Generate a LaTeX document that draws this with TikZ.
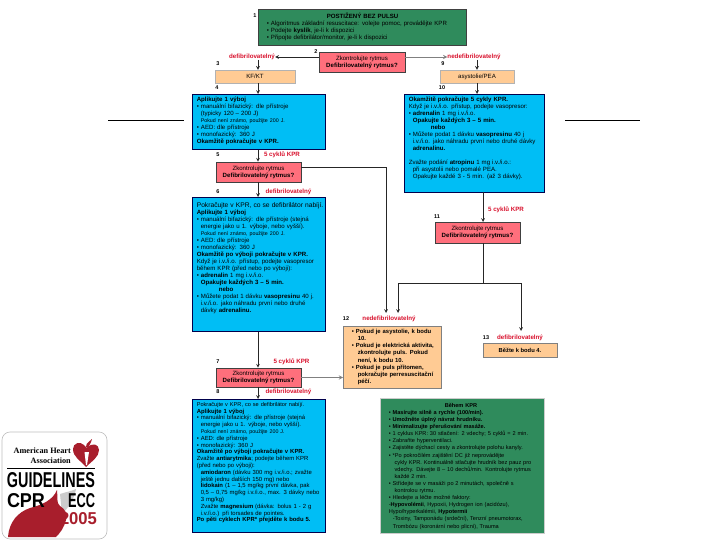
\documentclass[tikz,border=0pt]{standalone}
\usepackage{fontspec}
\setmainfont{Liberation Sans}
\newfontfamily\logoserif{Liberation Serif}
\newcommand{\bl}{\textbullet\ }
\newcommand{\ind}{\hspace*{4pt}}
\newcommand{\smalltxt}{\fontsize{5.3}{7}\selectfont}
\newcommand{\bigtxt}{\fontsize{6.7}{7}\selectfont}
\definecolor{algblue}{HTML}{00BEF5}
\definecolor{alggreen}{HTML}{2F8B5C}
\definecolor{algred}{HTML}{FF6F7C}
\definecolor{algpeach}{HTML}{FFCB94}
\definecolor{labred}{HTML}{D8102C}
\definecolor{logored}{HTML}{A81E2C}
\tikzset{
  txt/.style={font=\fontsize{6.1}{7}\selectfont},
  box/.style={draw=black!75,line width=0.6pt,anchor=north west,align=left,inner sep=0pt,txt},
  bluebox/.style={box,fill=algblue,draw=blue!30!black},
  greenbox/.style={box,fill=alggreen},
  redbox/.style={draw=black!75,line width=0.6pt,fill=algred,align=center,inner sep=0pt,txt},
  peachbox/.style={draw=black!30,line width=0.4pt,fill=algpeach,align=center,inner sep=0pt,txt},
  numlab/.style={font=\fontsize{5.5}{6}\bfseries\selectfont,inner sep=0pt},
  redlab/.style={font=\fontsize{6.2}{6}\bfseries\selectfont,text=labred,inner sep=0pt},
  conn/.style={->,line width=0.7pt,black!85},
  conngray/.style={->,line width=0.9pt,black!50}
}
\begin{document}
\begin{tikzpicture}[>=stealth, x=1pt, y=-1pt]
  \useasboundingbox (0,0) rectangle (720,540);
  % side rules
  \coordinate (ruleLa) at (108,120);
  \coordinate (ruleLb) at (184,120);
  \coordinate (ruleRa) at (565,120);
  \coordinate (ruleRb) at (640,120);
  \draw[black,line width=0.7pt] (ruleLa) -- (ruleLb);
  \draw[black,line width=0.7pt] (ruleRa) -- (ruleRb);
  % boxes
  \node[greenbox,minimum width=208pt,minimum height=36pt,text width=207pt] (b1) at (258,9) {\hspace*{68pt}\textbf{POSTIŽENÝ BEZ PULSU}\\
    \ind\ind\bl Algoritmus základní resuscitace: volejte pomoc, provádějte KPR\\
    \ind\ind\bl Podejte \textbf{kyslík}, je-li k dispozici\\
    \ind\ind\bl Připojte defibrilátor/monitor, je-li k dispozici};
  \node[redbox,minimum width=86pt,minimum height=20pt] (b2) at (362,62) {Zkontrolujte rytmus\\\textbf{Defibrilovatelný rytmus?}};
  \node[peachbox,minimum width=80pt,minimum height=13pt] (b3) at (255,76.5) {KF/KT};
  \node[peachbox,minimum width=74pt,minimum height=13pt] (b9) at (477,76.5) {asystolie/PEA};
  \node[bluebox,minimum width=133pt,minimum height=55pt,text width=132pt,text height=5pt,text depth=46pt] (b4) at (192,94) {\ind\textbf{Aplikujte 1 výboj}\\
    \ind\bl manuální bifazický: dle přístroje\\
    \ind\ind(typicky 120 -- 200 J)\\
    \ind\ind{\smalltxt Pokud není známo, použijte 200 J.}\\
    \ind\bl AED: dle přístroje\\
    \ind\bl monofazický: 360 J\\
    \ind\textbf{Okamžitě pokračujte v KPR.}};
  \node[bluebox,minimum width=140pt,minimum height=98pt,text width=139pt,text height=5pt,text depth=89pt] (b10) at (404,94) {\ind\textbf{Okamžitě pokračujte 5 cykly KPR.}\\
    \ind Když je i.v./i.o. přístup, podejte vasopresor:\\
    \ind\bl\textbf{adrenalin} 1 mg i.v./i.o.\\
    \ind\ind\textbf{Opakujte každých 3 -- 5 min.}\\
    \ind\ind\hspace*{18pt}\textbf{nebo}\\
    \ind\bl Můžete podat 1 dávku \textbf{vasopresinu} 40 j\\
    \ind\ind i.v./i.o. jako náhradu první nebo druhé dávky\\
    \ind\ind\textbf{adrenalinu.}\\[7pt]
    \ind Zvažte podání \textbf{atropinu} 1 mg i.v./i.o.:\\
    \ind\ind při asystolii nebo pomalé PEA.\\
    \ind\ind Opakujte každé 3 - 5 min. (až 3 dávky).};
  \node[redbox,minimum width=85pt,minimum height=20pt] (b5) at (258.5,172) {Zkontrolujte rytmus\\\textbf{Defibrilovatelný rytmus?}};
  \node[bluebox,minimum width=133pt,minimum height=134pt,text width=132pt,text height=8pt,text depth=122pt] (b6) at (192,197) {\ind{\bigtxt Pokračujte v KPR, co se defibrilátor nabíjí.}\\
    \ind\textbf{Aplikujte 1 výboj}\\
    \ind\bl manuální bifazický: dle přístroje (stejná\\
    \ind\ind energie jako u 1. výboje, nebo vyšší).\\
    \ind\ind{\smalltxt Pokud není známo, použijte 200 J.}\\
    \ind\bl AED: dle přístroje\\
    \ind\bl monofazický: 360 J\\
    \ind\textbf{Okamžitě po výboji pokračujte v KPR.}\\
    \ind Když je i.v./i.o. přístup, podejte vasopresor\\
    \ind během KPR (před nebo po výboji):\\
    \ind\bl\textbf{adrenalin} 1 mg i.v./i.o.\\
    \ind\ind\textbf{Opakujte každých 3 -- 5 min.}\\
    \ind\ind\hspace*{18pt}\textbf{nebo}\\
    \ind\bl Můžete podat 1 dávku \textbf{vasopresinu} 40 j.\\
    \ind\ind i.v./i.o. jako náhradu první nebo druhé\\
    \ind\ind dávky \textbf{adrenalinu.}};
  \node[redbox,minimum width=85pt,minimum height=21pt] (b11) at (477.5,232.5) {Zkontrolujte rytmus\\\textbf{Defibrilovatelný rytmus?}};
  \node[box,fill=algpeach,draw=black!50,minimum width=98pt,minimum height=62pt,text width=97pt,text height=6pt,text depth=54pt,font=\fontsize{5.9}{7.2}\bfseries\selectfont] (b12) at (343,326) {\ind\ind\bl Pokud je asystolie, k bodu\\
    \ind\ind\ind\ 10.\\
    \ind\ind\bl Pokud je elektrická aktivita,\\
    \ind\ind\ind\ zkontrolujte puls. Pokud\\
    \ind\ind\ind\ není, k bodu 10.\\
    \ind\ind\bl Pokud je puls přítomen,\\
    \ind\ind\ind\ pokračujte perresuscitační\\
    \ind\ind\ind\ péčí.};
  \node[peachbox,draw=black!50,minimum width=74pt,minimum height=14pt,font=\fontsize{5.8}{7}\bfseries\selectfont] (b13) at (520,350) {Běžte k bodu 4.};
  \node[redbox,minimum width=85pt,minimum height=19pt] (b7) at (258.5,377.5) {Zkontrolujte rytmus\\\textbf{Defibrilovatelný rytmus?}};
  \node[bluebox,minimum width=133pt,minimum height=133pt,text width=132pt,text height=6pt,text depth=125pt,font=\fontsize{5.9}{6.8}\selectfont] (b8) at (192,399) {\ind{\fontsize{5.6}{6.8}\selectfont Pokračujte v KPR, co se defibrilátor nabíjí.}\\
    \ind\textbf{Aplikujte 1 výboj}\\
    \ind\bl manuální bifazický: dle přístroje (stejná\\
    \ind\ind energie jako u 1. výboje, nebo vyšší).\\
    \ind\ind{\smalltxt Pokud není známo, použijte 200 J.}\\
    \ind\bl AED: dle přístroje\\
    \ind\bl monofazický: 360 J\\
    \ind\textbf{Okamžitě po výboji pokračujte v KPR.}\\
    \ind Zvažte \textbf{antiarytmika}; podejte během KPR\\
    \ind (před nebo po výboji):\\
    \ind\ind\textbf{amiodaron} (dávku 300 mg i.v./i.o.; zvažte\\
    \ind\ind ještě jednu dalších 150 mg) nebo\\
    \ind\ind\textbf{lidokain} (1 -- 1,5 mg/kg první dávka, pak\\
    \ind\ind 0,5 -- 0,75 mg/kg i.v./i.o., max. 3 dávky nebo\\
    \ind\ind 3 mg/kg)\\
    \ind\ind Zvažte \textbf{magnesium} (dávka: bolus 1 - 2 g\\
    \ind\ind i.v./i.o.) při torsades de pointes.\\
    \ind\textbf{Po pěti cyklech KPR* přejděte k bodu 5.}};
  \node[greenbox,draw=black!20,minimum width=164pt,minimum height=135pt,text width=163pt,text height=8pt,text depth=125pt,font=\fontsize{5.6}{7.1}\selectfont] (b14) at (380,398) {\hspace*{64pt}\textbf{Během KPR}\\
    \ind\ind\bl\textbf{Masírujte silně a rychle (100/min).}\\
    \ind\ind\bl\textbf{Umožněte úplný návrat hrudníku.}\\
    \ind\ind\bl\textbf{Minimalizujte přerušování masáže.}\\
    \ind\ind\bl 1 cyklus KPR: 30 stlačení: 2 vdechy; 5 cyklů = 2 min.\\
    \ind\ind\bl Zabraňte hyperventilaci.\\
    \ind\ind\bl Zajistěte dýchací cesty a zkontrolujte polohu kanyly.\\
    \ind\ind\bl *Po pokročilém zajištění DC již neprovádějte\\
    \ind\ind\ind\ cykly KPR. Kontinuálně stlačujte hrudník bez pauz pro\\
    \ind\ind\ind\ vdechy. Dávejte 8 -- 10 dechů/min. Kontrolujte rytmus\\
    \ind\ind\ind\ každé 2 min.\\
    \ind\ind\bl Střídejte se v masáži po 2 minutách, společně s\\
    \ind\ind\ind\ kontrolou rytmu.\\
    \ind\ind\bl Hledejte a léčte možné faktory:\\
    \ind\ind -\textbf{Hypovolémii}, Hypoxii, Hydrogen ion (acidózu),\\
    \ind\ind Hypo/hyperkalémii, \textbf{Hypotermii}\\
    \ind\ind\ind -Toxiny, Tamponádu (srdeční), Tenzní pneumotorax,\\
    \ind\ind\ind Trombózu (koronární nebo plicní), Trauma};
  % step numbers
  \node[numlab] (n1) at (255,16) {1};
  \node[numlab] (n2) at (316,52) {2};
  \node[numlab] (n3) at (218,64) {3};
  \node[numlab] (n9) at (443,64) {9};
  \node[numlab] (n4) at (217,88) {4};
  \node[numlab] (n10) at (442,88) {10};
  \node[numlab] (n5) at (218,155) {5};
  \node[numlab] (n6) at (218,192) {6};
  \node[numlab] (n11) at (437,217) {11};
  \node[numlab] (n12) at (346,319) {12};
  \node[numlab] (n13) at (486,338) {13};
  \node[numlab] (n7) at (218,362) {7};
  \node[numlab] (n8) at (218,392) {8};
  % red labels
  \node[redlab] (defA) at (252,57) {defibrilovatelný};
  \node[redlab] (nedefA) at (474,57) {nedefibrilovatelný};
  \node[redlab] (cyk5) at (282,155) {5 cyklů KPR};
  \node[redlab] (def6) at (288.5,192) {defibrilovatelný};
  \node[redlab] (cyk11) at (506,210) {5 cyklů KPR};
  \node[redlab] (cyk7) at (291.5,362) {5 cyklů KPR};
  \node[redlab] (def8) at (288.5,392) {defibrilovatelný};
  \node[redlab] (nedef12) at (389,319) {nedefibrilovatelný};
  \node[redlab] (def13) at (520,338) {defibrilovatelný};
  % connector corners
  \coordinate (c3) at (258,60);
  \coordinate (c9) at (477,60);
  \coordinate (c5) at (386,167);
  \coordinate (c12a) at (386,313);
  \coordinate (c12b) at (398,313);
  \coordinate (c13) at (521,331);
  \coordinate (c11a) at (483,192);
  \coordinate (c11b) at (483,222);
  \coordinate (c11c) at (483,243);
  \coordinate (c11d) at (483,283);
  % connectors
  \draw[conn] (b2.west |- defA) -- (defA.east);
  \draw[conngray] (b2.east |- nedefA) -- (nedefA.west);
  \draw[conn] (c3) -- (c3 |- b3.north);
  \draw[conn] (c9) -- (c9 |- b9.north);
  \draw[conn] (c3 |- b3.south) -- (c3 |- b4.north);
  \draw[conn] (c9 |- b9.south) -- (c9 |- b10.north);
  \draw[conn] (c3 |- b4.south) -- (c3 |- b5.north);
  \draw[conn] (c3 |- b5.south) -- (c3 |- b6.north);
  \draw[conn] (c3 |- b6.south) -- (c3 |- b7.north);
  \draw[conn] (c3 |- b7.south) -- (c3 |- b8.north);
  \draw[conn] (b5.east |- c5) -- (c5) -- (c12a);
  \draw[conn] (c11a) -- (c11b);
  \draw[conn] (c11c) -- (c11d) -| (c13);
  \draw[conn] (c11d) -| (c12b);
  \draw[conngray] (b7.east) -- (b7.east -| b12.west);
  % logo
  \draw[black!25,fill=white,line width=0.6pt,rounded corners=8pt] (2,432) rectangle (107,539);
  \fill[black!20] (60,494) .. controls (66,492) and (72,491) .. (76,489) .. controls (74,500) and (68,508) .. (62,514) -- cycle;
  \fill[logored] (8,537) .. controls (9,522) and (18,512) .. (30,508) .. controls (42,505) and (53,500) .. (57,490) .. controls (58,497) and (56,503) .. (60,506) .. controls (65,509) and (68,514) .. (66,520) .. controls (64,528) and (60,533) .. (56,537) -- cycle;
  \node[inner sep=0pt,font=\logoserif\fontsize{8.2}{10.5}\bfseries\selectfont,align=right,anchor=east] (logoA) at (71,455.5) {American Heart\\Association};
  % heart and torch
  \fill[logored] (86,467) .. controls (80,460) and (73,457) .. (73,449) .. controls (73,443) and (80,441) .. (84,445) -- (87,448) .. controls (92,442) and (99,444) .. (99,450) .. controls (99,457) and (92,461) .. (86,467) -- cycle;
  \fill[white] (84.5,452) -- (89,452) -- (87,465) -- (86,465) -- cycle;
  \fill[logored] (86,447) .. controls (86,442) and (90,442) .. (92,439) .. controls (91,443) and (89,446) .. (88,448) -- cycle;
  \draw[black,line width=0.8pt] (7,468.5) -- (95,468.5);
  \node[inner sep=0pt] (logoB) at (51,480.5) {\resizebox{88pt}{15pt}{\bfseries GUIDELINES}};
  \node[inner sep=0pt] (logoC) at (26,500.5) {\resizebox{38pt}{14pt}{\bfseries CPR}};
  \node[inner sep=0pt] (logoD) at (81.5,500.5) {\resizebox{27pt}{14pt}{\bfseries ECC}};
  \node[inner sep=0pt,text=logored] (logoE) at (78.5,518.5) {\resizebox{37pt}{12pt}{\bfseries 2005}};
\end{tikzpicture}
\end{document}
